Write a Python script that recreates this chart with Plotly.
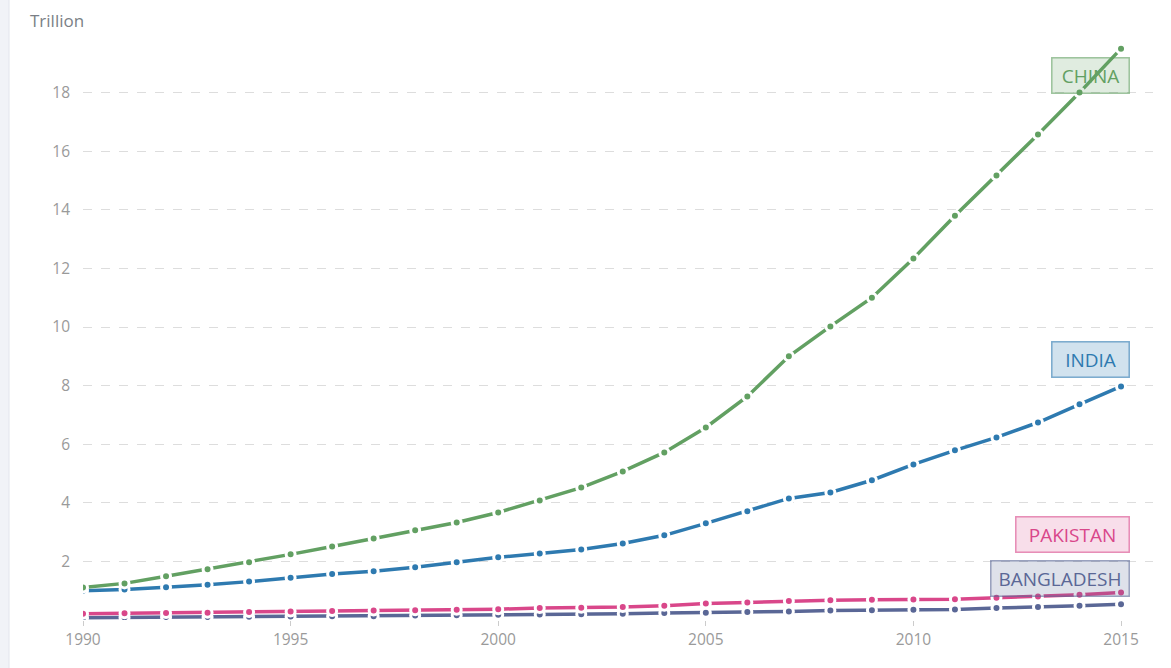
import plotly.graph_objects as go

years = list(range(1990, 2016))
china = [1.11, 1.25, 1.49, 1.73, 1.97, 2.24, 2.51, 2.78, 3.06, 3.33, 3.67, 4.08, 4.52, 5.07, 5.72,
         6.57, 7.63, 9.00, 10.02, 11.00, 12.34, 13.80, 15.17, 16.57, 18.00, 19.50]
india = [1.00, 1.04, 1.12, 1.20, 1.31, 1.44, 1.57, 1.66, 1.80, 1.97, 2.14, 2.27, 2.41, 2.61, 2.89,
         3.30, 3.71, 4.15, 4.35, 4.77, 5.31, 5.79, 6.23, 6.74, 7.36, 7.97]
pakistan = [0.21, 0.23, 0.24, 0.25, 0.27, 0.29, 0.31, 0.32, 0.33, 0.35, 0.37, 0.41, 0.42, 0.44, 0.49,
            0.56, 0.60, 0.65, 0.67, 0.69, 0.70, 0.71, 0.76, 0.80, 0.86, 0.94]
bangladesh = [0.08, 0.09, 0.10, 0.10, 0.11, 0.12, 0.13, 0.13, 0.15, 0.16, 0.18, 0.19, 0.20, 0.21, 0.24,
              0.25, 0.27, 0.29, 0.32, 0.33, 0.35, 0.36, 0.41, 0.44, 0.49, 0.54]

series = [
    ("BANGLADESH", bangladesh, "#5a6796", "rgba(90,103,150,0.2)", "rgba(90,103,150,0.6)", 1.42, 129),
    ("PAKISTAN", pakistan, "#d9478a", "rgba(217,71,138,0.18)", "rgba(217,71,138,0.6)", 2.92, 104),
    ("INDIA", india, "#2e7ab0", "rgba(46,122,176,0.22)", "rgba(46,122,176,0.6)", 8.88, 68),
    ("CHINA", china, "#62a062", "rgba(98,160,98,0.2)", "rgba(98,160,98,0.6)", 18.6, 68),
]

fig = go.Figure()
for name, vals, col, fill, border, ly, w in series:
    fig.add_trace(go.Scatter(
        x=years, y=vals, mode="lines+markers", name=name,
        line=dict(color=col, width=3.5),
        marker=dict(color=col, size=9, line=dict(color="white", width=3)),
        showlegend=False,
    ))
    fig.add_annotation(
        x=2015.22, y=ly, xref="x", yref="y", xanchor="right", yanchor="middle",
        text=name, showarrow=False, width=w, align="center",
        font=dict(family="Open Sans", size=19, color=col),
        bgcolor=fill, bordercolor=border, borderwidth=1.5, borderpad=4,
    )

fig.add_annotation(
    x=0, y=1, xref="paper", yref="paper", xanchor="left", yanchor="top",
    xshift=-55, yshift=27, text="Trillion", showarrow=False,
    font=dict(family="Open Sans", size=17, color="#7a7f86"),
)

fig.add_shape(type="rect", xref="paper", yref="paper",
              x0=-83 / 1070, x1=-74 / 1070, y0=-1, y1=2,
              fillcolor="#f1f3f7", line=dict(width=0), layer="below")
fig.add_shape(type="line", xref="paper", yref="paper",
              x0=-74 / 1070, x1=-74 / 1070, y0=-1, y1=2,
              line=dict(color="#e2e5ec", width=1), layer="below")

fig.update_layout(
    width=1171, height=668,
    margin=dict(l=83, r=18, t=34, b=48),
    paper_bgcolor="white", plot_bgcolor="white",
    font=dict(family="Open Sans", color="#999"),
    xaxis=dict(range=[1990, 2015.77], tickvals=[1990, 1995, 2000, 2005, 2010, 2015],
               showgrid=False, zeroline=False, showline=False,
               ticks="outside", ticklen=5, tickcolor="#cccccc",
               tickfont=dict(size=15.5, color="#9a9a9a")),
    yaxis=dict(range=[0, 20], tickvals=[2, 4, 6, 8, 10, 12, 14, 16, 18],
               showgrid=True, gridcolor="#dddddd", griddash="dash", gridwidth=1,
               zeroline=False, showline=False, ticklabelstandoff=12,
               tickfont=dict(size=15.5, color="#9a9a9a")),
)

fig.write_html("out.html")
